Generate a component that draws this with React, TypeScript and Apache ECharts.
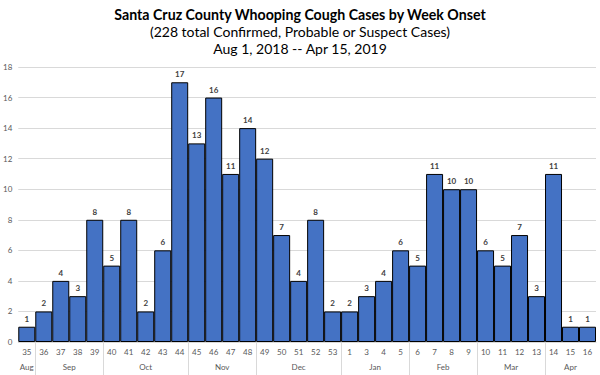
import React, { useEffect, useRef } from "react";
import * as echarts from "echarts";

const weeks = ["35","36","37","38","39","40","41","42","43","44","45","46","47","48","49","50","51","52","53","1","3","4","5","6","7","8","9","10","11","12","13","14","15","16"];
const cases = [1,2,4,3,8,5,8,2,6,17,13,16,11,14,12,7,4,8,2,2,3,4,6,5,11,10,10,6,5,7,3,11,1,1];
const months = ["Aug","Sep","Oct","Nov","Dec","Jan","Feb","Mar","Apr"];
const monthWeekCounts = [1,4,5,4,5,4,4,4,3];
const yTicks = [0,2,4,6,8,10,12,14,16,18];

const titleText = "Santa Cruz County Whooping Cough Cases by Week Onset";
const subtitle1 = "(228 total Confirmed, Probable or Suspect Cases)";
const subtitle2 = "Aug 1, 2018 -- Apr 15, 2019";

export default function App() {
  const ref = useRef<HTMLDivElement>(null);
  useEffect(() => {
    if (!ref.current) return;
    const chart = echarts.init(ref.current, null, { renderer: "svg" });
    const n = weeks.length * 2 + 1;
    const halfData: string[] = [];
    const centerLabel: Record<number, string> = {};
    const boundaries = new Set<number>();
    let start = 0;
    monthWeekCounts.forEach((c, i) => {
      if (start > 0) boundaries.add(start * 2);
      centerLabel[start * 2 + c] = months[i];
      start += c;
    });
    for (let i = 0; i < n; i++) halfData.push(centerLabel[i] ?? "");
    const font = "Lato, 'Noto Sans', sans-serif";
    chart.setOption({
      animation: false,
      title: [
        { text: titleText, left: "center", top: 2, textStyle: { fontFamily: font, fontSize: 14.2, fontWeight: "bold", color: "#000" } },
        { text: subtitle1, left: "center", top: 19, textStyle: { fontFamily: font, fontSize: 14, fontWeight: "normal", color: "#000" } },
        { text: subtitle2, left: "center", top: 36, textStyle: { fontFamily: font, fontSize: 14, fontWeight: "normal", color: "#000" } },
      ],
      grid: { left: 16, right: 4, top: 67, bottom: 33, containLabel: false },
      xAxis: [
        {
          type: "category",
          data: weeks,
          axisLine: { lineStyle: { color: "#d9d9d9" } },
          axisTick: { show: false },
          axisLabel: { color: "#595959", fontSize: 8, fontFamily: font, margin: 6, interval: 0 },
        },
        {
          type: "category",
          position: "bottom",
          boundaryGap: false,
          data: halfData,
          axisLine: { show: false },
          axisTick: {
            show: true,
            length: 33,
            interval: (idx: number) => boundaries.has(idx),
            lineStyle: { color: "#d9d9d9" },
          },
          axisLabel: {
            color: "#595959", fontSize: 8, fontFamily: font, margin: 21,
            interval: (idx: number, v: string) => v !== "",
          },
        },
      ],
      yAxis: {
        type: "value",
        min: 0,
        max: 18,
        interval: 2,
        axisLine: { show: false },
        axisTick: { show: false },
        axisLabel: {
          color: "#595959", fontSize: 8, fontFamily: font, margin: 6,
          formatter: (v: number) => (yTicks.includes(v) ? String(v) : ""),
        },
        splitLine: { lineStyle: { color: "#d9d9d9" } },
      },
      series: [
        {
          type: "bar",
          data: cases,
          xAxisIndex: 0,
          barCategoryGap: "0%",
          itemStyle: { color: "#4472C4", borderColor: "#000", borderWidth: 1 },
          label: {
            show: true,
            position: "top",
            distance: 3,
            color: "#404040",
            fontSize: 8,
            fontWeight: "bold",
            fontFamily: font,
            backgroundColor: "#fff",
            padding: [1, 2],
          },
        },
      ],
    });
    return () => chart.dispose();
  }, []);
  return <div ref={ref} style={{ width: 600, height: 375, position: "absolute", left: 0, top: 0, background: "#fff" }} />;
}
